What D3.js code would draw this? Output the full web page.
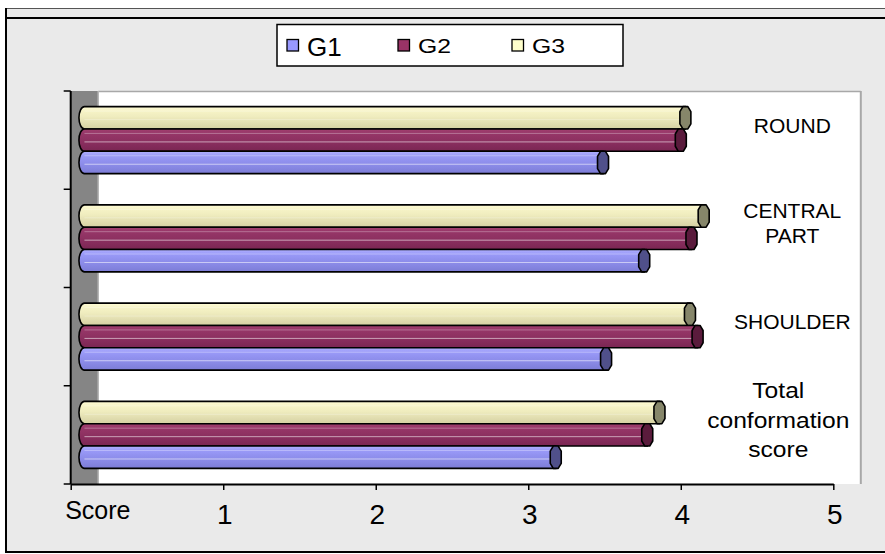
<!DOCTYPE html>
<html><head><meta charset="utf-8">
<script src="https://cdn.jsdelivr.net/npm/d3@7"></script>
<style>
html,body{margin:0;padding:0;background:#fff;}
svg{display:block;font-family:"Liberation Sans",Arial,sans-serif;}
</style></head>
<body>
<svg id="chart" width="885" height="554"></svg>
<script>
// ---- data ----
const categories = ["ROUND", "CENTRAL PART", "SHOULDER", "Total conformation score"];
const categoryLines = [["ROUND"], ["CENTRAL", "PART"], ["SHOULDER"], ["Total", "conformation", "score"]];
const seriesNames = ["G1", "G2", "G3"];
const g1Values = [3.40, 3.67, 3.42, 3.09];
const g2Values = [3.91, 3.98, 4.02, 3.69];
const g3Values = [3.94, 4.06, 3.97, 3.77];
const xTickValues = [0, 1, 2, 3, 4, 5];
const xTickLabels = ["Score", "1", "2", "3", "4", "5"];

const seriesValues = {G1: g1Values, G2: g2Values, G3: g3Values};
const styles = {
  G1: {stops: ["#b0b0ff", "#9a9af8", "#9090ee", "#8888e4", "#7c7cd6"], cap: "#50508a", swatch: "#9999ff"},
  G2: {stops: ["#a2406f", "#963668", "#8f3262", "#862c5c", "#7a2652"], cap: "#5a1b3c", swatch: "#993366"},
  G3: {stops: ["#fffcd6", "#f6f3c6", "#efecbe", "#e3dfb2", "#d5d1a2"], cap: "#86866a", swatch: "#ffffcc"}
};

const svg = d3.select("#chart");
const W = 885, H = 554;

// background & frame
svg.append("rect").attr("x", 6).attr("y", 8).attr("width", W).attr("height", H - 10).attr("fill", "#eaeaea");
svg.append("line").attr("x1", 6).attr("x2", W).attr("y1", 8.5).attr("y2", 8.5).attr("stroke", "#555").attr("stroke-width", 1);
svg.append("line").attr("x1", 6).attr("x2", W).attr("y1", 18).attr("y2", 18).attr("stroke", "#000").attr("stroke-width", 2);
svg.append("line").attr("x1", 6).attr("x2", 6).attr("y1", 8).attr("y2", 553).attr("stroke", "#000").attr("stroke-width", 2);
svg.append("line").attr("x1", 6).attr("x2", W).attr("y1", 552).attr("y2", 552).attr("stroke", "#000").attr("stroke-width", 2);

// scales
const x = d3.scaleLinear().domain([0, 5]).range([70.7, 833.3]);
const depth = 27.5;
const barShift = depth / 2;
const y = d3.scaleBand().domain(categories).range([91, 484]).paddingInner(0.318).paddingOuter(0.159);
const ySub = d3.scaleBand().domain(["G3", "G2", "G1"]).range([0, y.bandwidth()]);

// gradients
const defs = svg.append("defs");
seriesNames.forEach(s => {
  const g = defs.append("linearGradient").attr("id", "grad" + s).attr("x1", 0).attr("y1", 0).attr("x2", 0).attr("y2", 1);
  const st = styles[s].stops;
  const offs = [0, 0.2, 0.45, 0.7, 1];
  st.forEach((c, i) => g.append("stop").attr("offset", offs[i]).attr("stop-color", c));
});

// back wall and side wall
const plotTop = y.range()[0], plotBottom = y.range()[1];
svg.append("rect").attr("x", x(0) + depth).attr("y", plotTop)
  .attr("width", x(5) - x(0)).attr("height", plotBottom - plotTop)
  .attr("fill", "#fff");
svg.append("line").attr("x1", x(0) + depth).attr("x2", x(5) + depth).attr("y1", plotTop + 0.5).attr("y2", plotTop + 0.5)
  .attr("stroke", "#a8a8a8").attr("stroke-width", 1.5);
svg.append("line").attr("x1", x(5) + depth).attr("x2", x(5) + depth).attr("y1", plotTop).attr("y2", plotBottom)
  .attr("stroke", "#a8a8a8").attr("stroke-width", 2);
svg.append("rect").attr("x", x(0)).attr("y", plotTop).attr("width", depth).attr("height", plotBottom - plotTop)
  .attr("fill", "#858585");
svg.append("line").attr("x1", x(0) + depth).attr("x2", x(0) + depth).attr("y1", plotTop).attr("y2", plotBottom)
  .attr("stroke", "#b5b5b5").attr("stroke-width", 1.5);

// bars
const rx = 5.5;
categories.forEach((cat, ci) => {
  ["G3", "G2", "G1"].forEach(s => {
    const v = seriesValues[s][ci];
    const y0 = y(cat) + ySub(s), h = ySub.bandwidth(), y1 = y0 + h;
    const xs = x(0) + barShift, xe = x(v) + barShift;
    const g = svg.append("g");
    g.append("path")
      .attr("d", `M${xs},${y0} L${xe},${y0} L${xe},${y1} L${xs},${y1} A${rx},${h / 2} 0 0 1 ${xs},${y0} Z`)
      .attr("fill", `url(#grad${s})`).attr("stroke", "#000").attr("stroke-width", 1.6);
    // highlight lines
    g.append("line").attr("x1", xs).attr("x2", xe).attr("y1", y0 + h * 0.58).attr("y2", y0 + h * 0.58)
      .attr("stroke", "#fff").attr("stroke-opacity", s === "G3" ? 0.25 : 0.55).attr("stroke-width", 1);
    g.append("line").attr("x1", xs).attr("x2", xe).attr("y1", y0 + h * 0.2).attr("y2", y0 + h * 0.2)
      .attr("stroke", "#fff").attr("stroke-opacity", 0.3).attr("stroke-width", 1);
    // end cap (hexagonal ellipse)
    const cy = y0 + h / 2, hh = h / 2;
    const capPts = [[xe - rx, cy - hh * 0.55], [xe - rx * 0.45, cy - hh], [xe + rx * 0.45, cy - hh], [xe + rx, cy - hh * 0.55],
                    [xe + rx, cy + hh * 0.55], [xe + rx * 0.45, cy + hh], [xe - rx * 0.45, cy + hh], [xe - rx, cy + hh * 0.55]];
    g.append("path").attr("d", d3.line().curve(d3.curveLinearClosed)(capPts))
      .attr("fill", styles[s].cap).attr("stroke", "#000").attr("stroke-width", 1.6).attr("stroke-linejoin", "round");
  });
});

// y axis with boundary ticks
const boundaries = d3.range(categories.length + 1).map(i => y.range()[0] + i * y.step());
svg.append("line").attr("x1", x(0)).attr("x2", x(0)).attr("y1", plotTop).attr("y2", plotBottom)
  .attr("stroke", "#000").attr("stroke-width", 2);
svg.selectAll(".ytick").data(boundaries).enter().append("line")
  .attr("x1", x(0) - 7).attr("x2", x(0)).attr("y1", d => d).attr("y2", d => d)
  .attr("stroke", "#000").attr("stroke-width", 1.5);

// x axis
const xAxis = d3.axisBottom(x).tickValues(xTickValues).tickFormat((d, i) => xTickLabels[i]).tickSize(6).tickSizeOuter(0);
const ax = svg.append("g").attr("transform", `translate(0,${plotBottom})`).call(xAxis);
ax.select(".domain").attr("stroke", "#000").attr("stroke-width", 2);
ax.selectAll(".tick line").attr("stroke", "#000").attr("stroke-width", 1.5);
ax.selectAll(".tick text")
  .attr("fill", "#000").attr("font-family", "Liberation Sans, Arial, sans-serif")
  .attr("dy", 0)
  .attr("font-size", (d, i) => i === 0 ? 25 : 28)
  .attr("y", (d, i) => i === 0 ? 35 : 40)
  .attr("x", (d, i) => i === 0 ? -6 : 1)
  .attr("text-anchor", (d, i) => i === 0 ? "start" : "middle");

// category labels (right side)
const labelX = x(5) - 43;
categories.forEach((cat, ci) => {
  const lines = categoryLines[ci];
  const isLong = lines.length === 3;
  const fs = isLong ? 22 : 21;
  const lh = isLong ? 29.5 : 25;
  const capH = fs * 0.716;
  const centre = y(cat) + y.bandwidth() / 2 - 15;
  const firstBase = centre - ((lines.length - 1) * lh + capH) / 2 + capH;
  lines.forEach((ln, li) => {
    svg.append("text")
      .attr("transform", `translate(${isLong ? labelX - 12 : labelX + 2},${firstBase + li * lh}) scale(${isLong ? 1.12 : 1},1)`)
      .attr("text-anchor", "middle").attr("font-size", fs).attr("fill", "#000").text(ln);
  });
});

// legend
const leg = svg.append("g");
leg.append("rect").attr("x", 277).attr("y", 24.5).attr("width", 346).attr("height", 41.5)
  .attr("fill", "#fff").attr("stroke", "#000").attr("stroke-width", 1.5);
const legX = d3.scalePoint().domain(seriesNames).range([287, 512]);
const legXpos = {G1: 287, G2: 398, G3: 512};
seriesNames.forEach((s, i) => {
  const sx = legXpos[s];
  leg.append("rect").attr("x", sx).attr("y", 39.5).attr("width", 11.5).attr("height", 11.5)
    .attr("fill", styles[s].swatch).attr("stroke", "#000").attr("stroke-width", 1.3);
  const t = leg.append("text").attr("x", sx + 20).attr("y", i === 0 ? 55.7 : 52.7)
    .attr("font-size", i === 0 ? 26 : 20).attr("fill", "#000").text(s);
  if (i > 0) t.attr("textLength", 33).attr("lengthAdjust", "spacingAndGlyphs");
});
</script>
</body></html>
